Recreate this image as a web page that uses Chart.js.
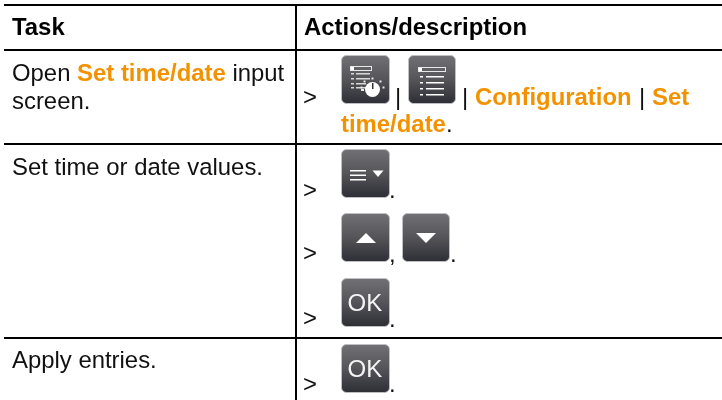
<!DOCTYPE html>
<html>
<head>
<meta charset="utf-8">
<style>
  html, body { margin: 0; padding: 0; background: #fff; }
  canvas { display: block; }
</style>
<script src="https://cdn.jsdelivr.net/npm/chart.js@4"></script>
</head>
<body>
<canvas id="chart" width="722" height="400"></canvas>
<script>
// table content
const headers = ['Task', 'Actions/description'];
const taskLine1 = ['Open ', 'Set time/date', ' input'];
const taskLine2 = 'screen.';
const taskRow2 = 'Set time or date values.';
const taskRow3 = 'Apply entries.';
const menuPath = ['Configuration', 'Set'];
const menuPathEnd = 'time/date';

// rule positions, in page pixels
const rowEdges = [5, 50, 144, 338];
const columnEdges = [296];

const FONT = '"Liberation Sans", Arial, sans-serif';
const ORANGE = '#f39200';
const INK = '#111';

/**
 * Write one piece of text, returns the x where it ended.
 */
function put(ctx, text, x, y, { bold = false, color = INK, size = 23.9 } = {}) {
  ctx.font = (bold ? 'bold ' : '') + size + 'px ' + FONT;
  ctx.fillStyle = color;
  ctx.textAlign = 'left';
  ctx.textBaseline = 'alphabetic';
  ctx.fillText(text, x, y);
  return x + ctx.measureText(text).width;
}

function bar(ctx, x, y, w, h = 1.5) {
  ctx.fillStyle = '#fff';
  ctx.fillRect(x, y, w, h);
}

/**
 * Dark rounded key with gradient, the glyph is drawn by the callback.
 */
function key(ctx, x, y, glyph, w = 49) {
  const h = 49;
  const grad = ctx.createLinearGradient(0, y, 0, y + h);
  grad.addColorStop(0, '#727276');
  grad.addColorStop(0.5, '#545459');
  grad.addColorStop(1, '#2d2d35');
  ctx.beginPath();
  ctx.roundRect(x + 0.5, y + 0.5, w - 1, h - 1, 5);
  ctx.fillStyle = grad;
  ctx.fill();
  ctx.strokeStyle = '#c0c0c4';
  ctx.lineWidth = 1;
  ctx.stroke();
  glyph(ctx, x, y);
}

function triangle(ctx, x1, y1, x2, y2, x3, y3) {
  ctx.fillStyle = '#fff';
  ctx.beginPath();
  ctx.moveTo(x1, y1);
  ctx.lineTo(x2, y2);
  ctx.lineTo(x3, y3);
  ctx.closePath();
  ctx.fill();
}

function menuHead(ctx, x, y, w) {
  ctx.strokeStyle = '#e8e8e8';
  ctx.lineWidth = 1;
  ctx.strokeRect(x + 0.5, y + 0.5, w, 4);
  ctx.fillStyle = '#fff';
  ctx.fillRect(x + 1, y + 1, 3, 3);
}

const glyphs = {
  timeMenu(ctx, x, y) {
    menuHead(ctx, x + 9, y + 11, 21);
    [18, 23, 28, 32].forEach((dy, i) => {
      ctx.fillStyle = '#d8d8d8';
      ctx.fillRect(x + 10, y + dy, 3, 1.5);
      ctx.fillRect(x + 15, y + dy, i < 2 ? 14 : 10, 1.5);
    });
    ctx.fillStyle = '#fff';
    ctx.beginPath();
    ctx.arc(x + 31.5, y + 34.5, 7.5, 0, Math.PI * 2);
    ctx.fill();
    ctx.fillStyle = '#333';
    ctx.fillRect(x + 31, y + 28, 1.5, 6);
    ctx.fillStyle = '#e8e8e8';
    [[-11, -2], [-8, -8], [0, -11], [8, -8], [11, -2]].forEach(([dx, dy]) => {
      ctx.fillRect(x + 31.5 + dx - 1, y + 34.5 + dy - 1, 2, 2);
    });
    ctx.fillRect(x + 20, y + 34, 3, 2);
  },
  listMenu(ctx, x, y) {
    menuHead(ctx, x + 10, y + 12, 27);
    [21, 27, 33, 39].forEach(dy => {
      ctx.fillStyle = '#fff';
      ctx.fillRect(x + 12, y + dy, 3, 1.5);
      ctx.fillRect(x + 18, y + dy, 18, 1.5);
    });
  },
  dropdown(ctx, x, y) {
    bar(ctx, x + 9, y + 21, 16);
    bar(ctx, x + 9, y + 25.5, 16);
    bar(ctx, x + 9, y + 30, 16);
    triangle(ctx, x + 31.5, y + 21.5, x + 42.5, y + 21.5, x + 37, y + 28);
  },
  up(ctx, x, y) {
    triangle(ctx, x + 15, y + 30, x + 35, y + 30, x + 25, y + 20);
  },
  down(ctx, x, y) {
    triangle(ctx, x + 14, y + 20, x + 34, y + 20, x + 24, y + 30);
  },
  ok(ctx, x, y) {
    put(ctx, 'OK', x + 6.5, y + 33, { color: '#f4f4f4', size: 24 });
  },
};

// text and keys are laid over the rules drawn by the axes
const tableContent = {
  id: 'tableContent',
  afterDraw(chart) {
    const ctx = chart.ctx;
    ctx.save();

    put(ctx, headers[0], 12, 35, { bold: true, color: '#000' });
    put(ctx, headers[1], 304, 35, { bold: true, color: '#000' });

    // left column
    let x = put(ctx, taskLine1[0], 12, 81);
    x = put(ctx, taskLine1[1], x, 81, { bold: true, color: ORANGE });
    put(ctx, taskLine1[2], x, 81);
    put(ctx, taskLine2, 12, 109);
    put(ctx, taskRow2, 12, 175);
    put(ctx, taskRow3, 12, 368);

    // row 1 of the right column
    put(ctx, '>', 303, 105);
    key(ctx, 341, 55, glyphs.timeMenu);
    put(ctx, '|', 395, 105);
    key(ctx, 408, 55, glyphs.listMenu, 48);
    put(ctx, '|', 462, 105);
    x = put(ctx, menuPath[0], 475, 105, { bold: true, color: ORANGE });
    put(ctx, '|', 639, 105);
    put(ctx, menuPath[1], 652, 105, { bold: true, color: ORANGE });
    x = put(ctx, menuPathEnd, 341, 132, { bold: true, color: ORANGE });
    put(ctx, '.', x, 132);

    // row 2
    put(ctx, '>', 303, 198);
    key(ctx, 341, 149, glyphs.dropdown);
    put(ctx, '.', 389, 198);
    put(ctx, '>', 303, 261);
    key(ctx, 341, 213, glyphs.up);
    put(ctx, ',', 389, 262);
    key(ctx, 402, 213, glyphs.down, 48);
    put(ctx, '.', 450, 262);
    put(ctx, '>', 303, 326);
    key(ctx, 341, 278, glyphs.ok);
    put(ctx, '.', 389, 327);

    // row 3
    put(ctx, '>', 303, 392);
    key(ctx, 341, 344, glyphs.ok);
    put(ctx, '.', 389, 392);

    ctx.restore();
  },
};

function ruleAxis(min, max, edges, reverse) {
  return {
    type: 'linear',
    min,
    max,
    reverse,
    afterBuildTicks(scale) {
      scale.ticks = edges.map(value => ({ value }));
    },
    ticks: { display: false },
    border: { display: false },
    grid: { color: '#000', lineWidth: 2, drawTicks: false },
  };
}

new Chart(document.getElementById('chart'), {
  type: 'scatter',
  data: { datasets: [] },
  options: {
    responsive: false,
    animation: false,
    layout: { padding: { left: 4, top: 4, right: 0, bottom: 0 } },
    plugins: { legend: { display: false }, tooltip: { enabled: false } },
    scales: {
      x: ruleAxis(4, 722, columnEdges, false),
      y: ruleAxis(4, 400, rowEdges, true),
    },
  },
  plugins: [tableContent],
});
</script>
</body>
</html>
